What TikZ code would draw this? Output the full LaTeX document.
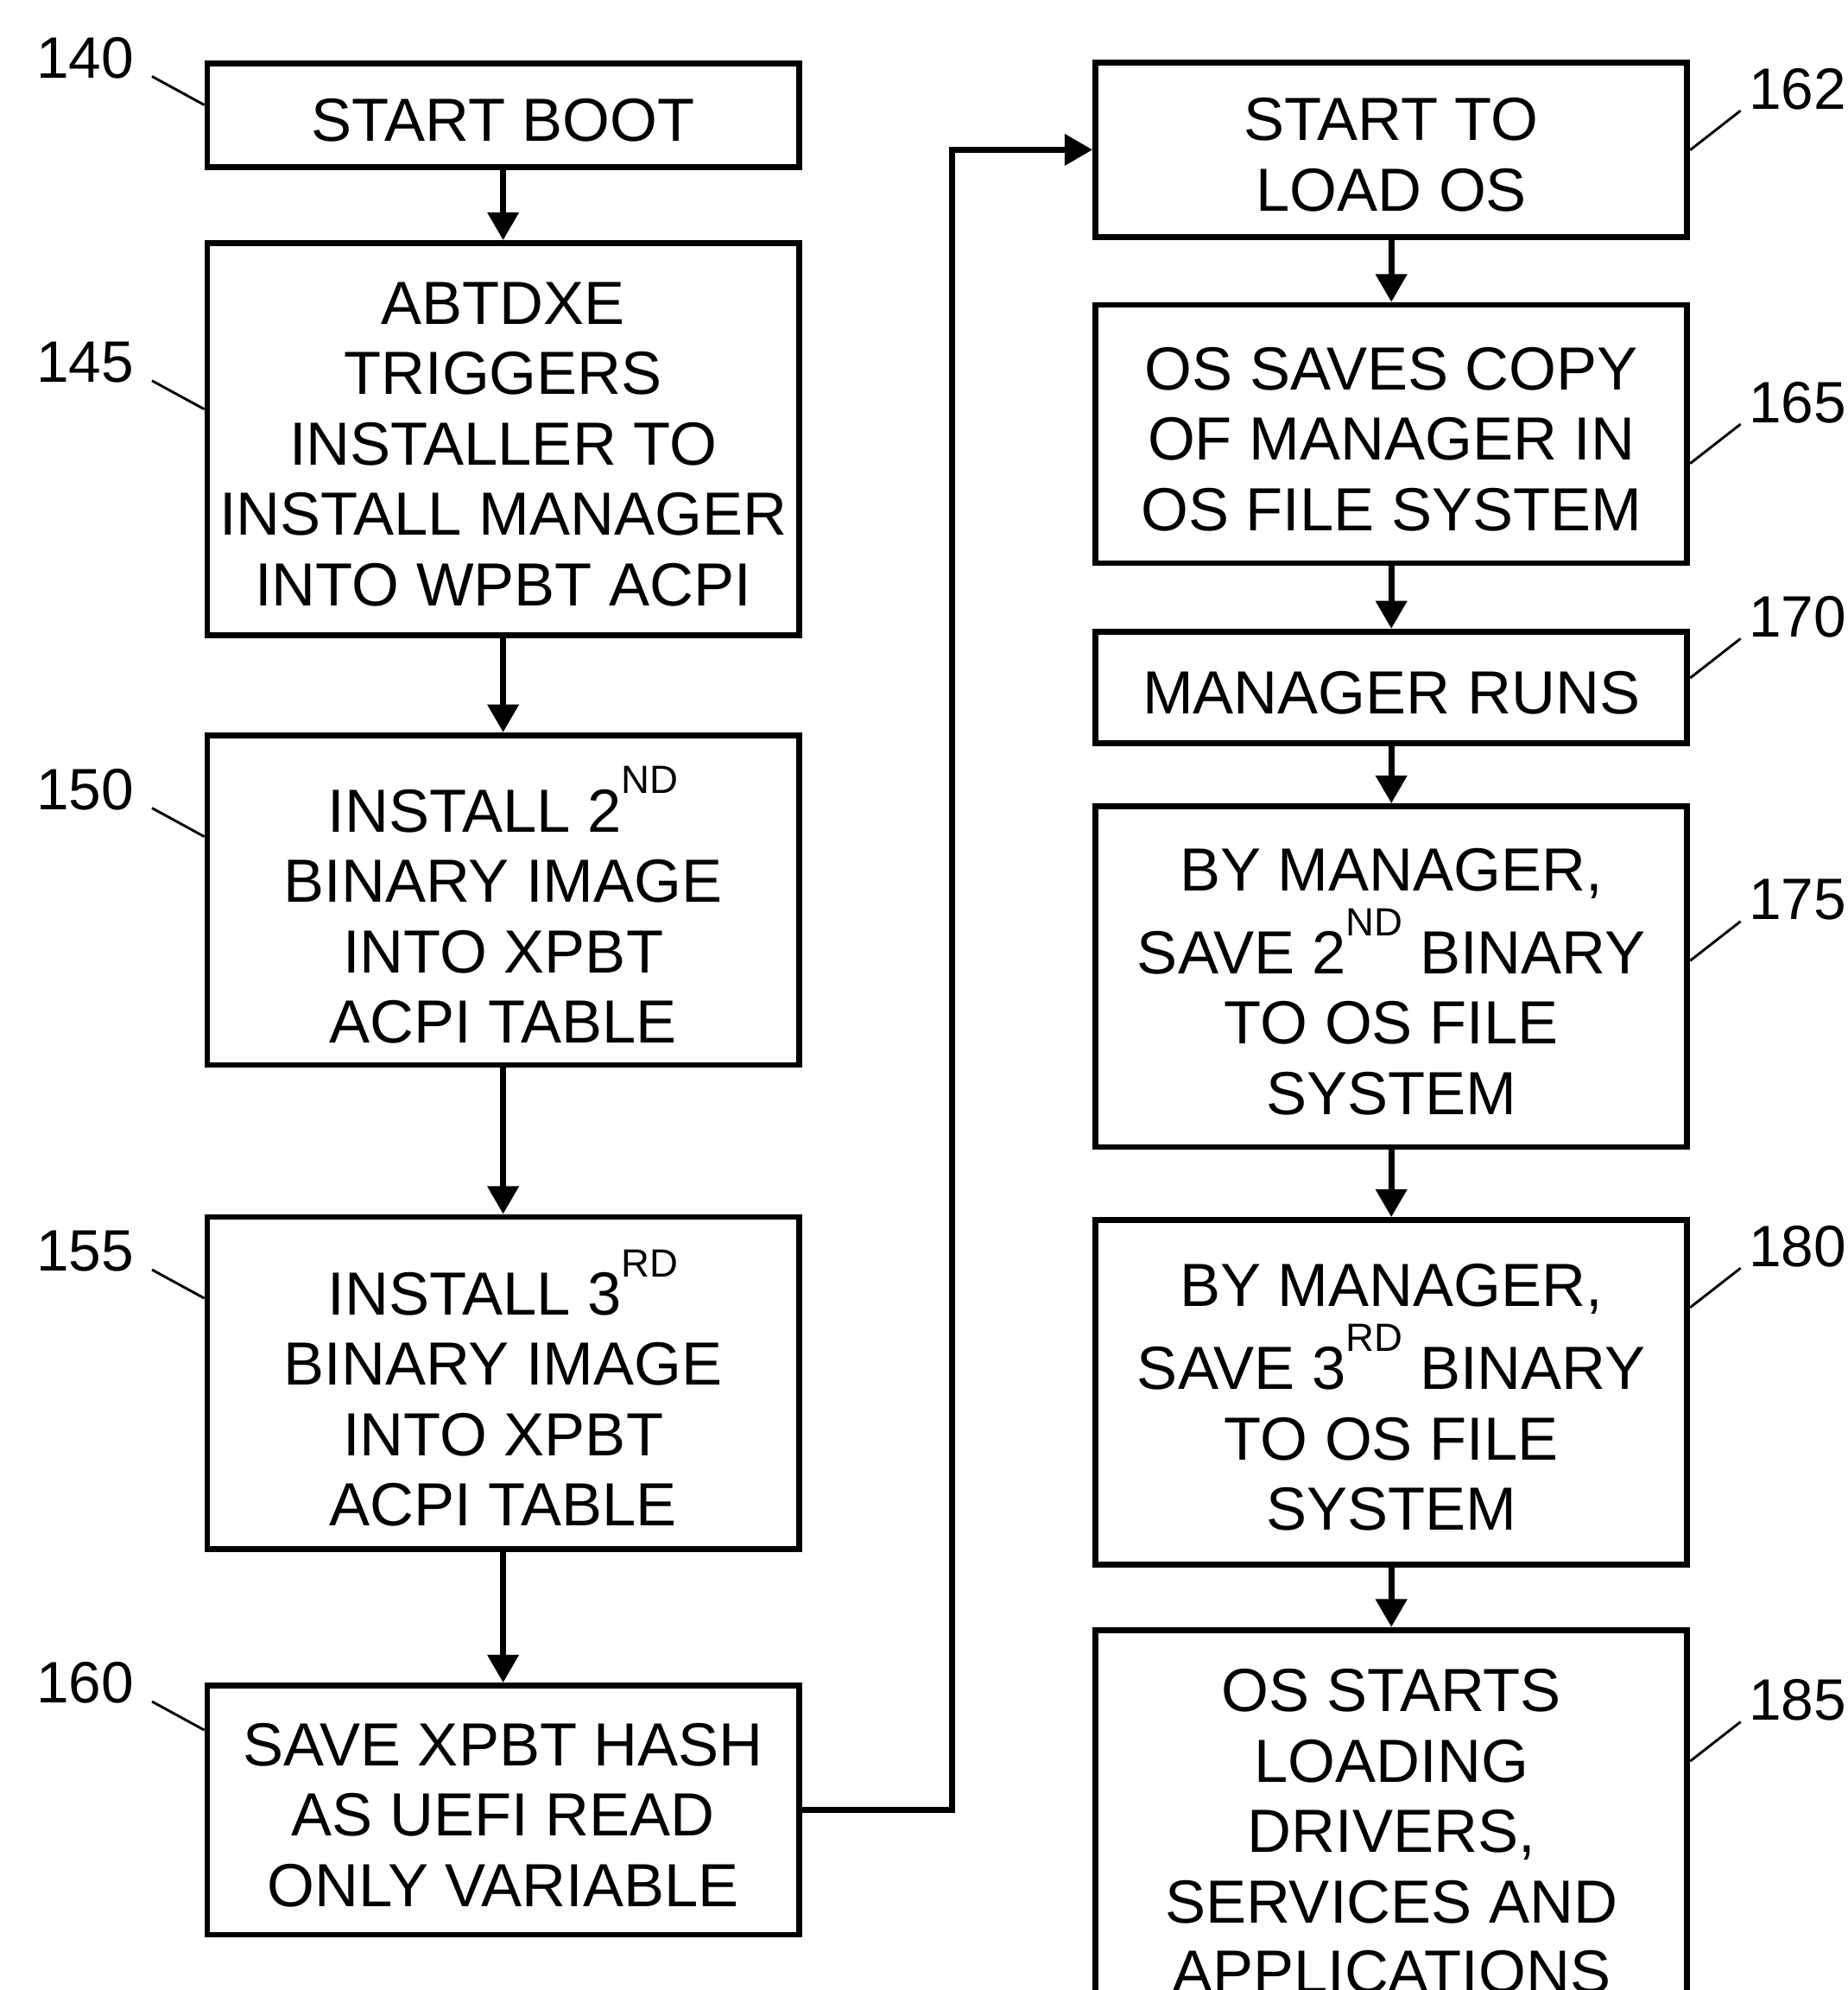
\documentclass[tikz,border=0pt]{standalone}
\usepackage{fontspec}
\setmainfont{Liberation Sans}
\usetikzlibrary{arrows.meta,calc}
\newcommand\sups[1]{\raisebox{15pt}{\fontsize{15.5}{15.5}\selectfont #1}}
\begin{document}
\begin{tikzpicture}[x=0.5pt,y=-0.5pt,
  stepbox/.style={draw, line width=2.3pt, minimum width=233.2pt, inner sep=0pt},
  boxtext/.style={align=center, inner sep=0pt, font=\fontsize{24}{27.75}\selectfont\setlength\lineskip{4pt}},
  flow/.style={line width=2.3pt, -{Triangle[width=12pt,length=11pt]}},
  reflabel/.style={inner sep=0pt, font=\fontsize{23}{23}\selectfont},
  leader/.style={line width=1pt}]
\useasboundingbox (0,0) rectangle (1456,1568);
\fill[white] (0,0) rectangle (1456,1568);

% left column
\node[stepbox, minimum height=40.65pt] (b140) at (396.5,90.8) {};
\node[stepbox, minimum height=154.45pt] (b145) at (396.5,346) {};
\node[stepbox, minimum height=129.9pt] (b150) at (396.5,709.2) {};
\node[stepbox, minimum height=130.8pt] (b155) at (396.5,1089.7) {};
\node[stepbox, minimum height=98.2pt] (b160) at (396.5,1426.3) {};
% right column
\node[stepbox, minimum height=68.7pt] (b162) at (1096.5,118) {};
\node[stepbox, minimum height=101.7pt] (b165) at (1096.5,342) {};
\node[stepbox, minimum height=44pt] (b170) at (1096.5,541.7) {};
\node[stepbox, minimum height=134.2pt] (b175) at (1096.5,769.5) {};
\node[stepbox, minimum height=135.7pt] (b180) at (1096.5,1097) {};
\node[stepbox, minimum height=156.7pt] (b185) at (1096.5,1441) {};

% texts
\node[boxtext] (t140) at ([yshift=-2pt]b140.center) {START BOOT};
\node[boxtext] (t145) at ([yshift=-2pt]b145.center) {ABTDXE\\TRIGGERS\\INSTALLER TO\\INSTALL MANAGER\\INTO WPBT ACPI};
\node[boxtext] (t150) at ([yshift=-2pt]b150.center) {INSTALL 2\sups{ND}\\BINARY IMAGE\\INTO XPBT\\ACPI TABLE};
\node[boxtext] (t155) at ([yshift=-2pt]b155.center) {INSTALL 3\sups{RD}\\BINARY IMAGE\\INTO XPBT\\ACPI TABLE};
\node[boxtext] (t160) at ([yshift=-2pt]b160.center) {SAVE XPBT HASH\\AS UEFI READ\\ONLY VARIABLE};
\node[boxtext] (t162) at ([yshift=-2pt]b162.center) {START TO\\LOAD OS};
\node[boxtext] (t165) at ([yshift=-2pt]b165.center) {OS SAVES COPY\\OF MANAGER IN\\OS FILE SYSTEM};
\node[boxtext] (t170) at ([yshift=-2pt]b170.center) {MANAGER RUNS};
\node[boxtext] (t175) at ([yshift=-2pt]b175.center) {BY MANAGER,\\SAVE 2\sups{ND} BINARY\\TO OS FILE\\SYSTEM};
\node[boxtext] (t180) at ([yshift=-2pt]b180.center) {BY MANAGER,\\SAVE 3\sups{RD} BINARY\\TO OS FILE\\SYSTEM};
\node[boxtext] (t185) at (1096.5,1443) {OS STARTS\\LOADING\\DRIVERS,\\SERVICES AND\\APPLICATIONS};

% flow arrows
\draw[flow] (b140) -- (b145);
\draw[flow] (b145) -- (b150);
\draw[flow] (b150) -- (b155);
\draw[flow] (b155) -- (b160);
\draw[flow] (b162) -- (b165);
\draw[flow] (b165) -- (b170);
\draw[flow] (b170) -- (b175);
\draw[flow] (b175) -- (b180);
\draw[flow] (b180) -- (b185);
\coordinate (bend) at (750.5,1426.3);
\draw[flow] (b160.east) -- (bend) |- (b162.west);

% reference labels, left
\node[reflabel] (l140) at (67,45.5) {140};
\node[reflabel] (l145) at (67,285.5) {145};
\node[reflabel] (l150) at (67,622) {150};
\node[reflabel] (l155) at (67,986) {155};
\node[reflabel] (l160) at (67,1326) {160};
\foreach \n/\b in {l140/b140,l145/b145,l150/b150,l155/b155,l160/b160}{
  \draw[leader] ($(\n.south east)+(14,-2)$) -- ($(\n.south -| \b.west)+(0,20.5)$);
}
% reference labels, right
\node[reflabel] (l162) at (1416.5,70) {162};
\node[reflabel] (l165) at (1416.5,317) {165};
\node[reflabel] (l170) at (1416.5,486) {170};
\node[reflabel] (l175) at (1416.5,709) {175};
\node[reflabel] (l180) at (1416.5,982) {180};
\node[reflabel] (l185) at (1416.5,1339.5) {185};
\foreach \n/\b in {l162/b162,l165/b165,l170/b170,l175/b175,l180/b180,l185/b185}{
  \draw[leader] ($(\n.south west)+(-6,0.5)$) -- ($(\n.south -| \b.east)+(0,31.5)$);
}
\end{tikzpicture}
\end{document}
